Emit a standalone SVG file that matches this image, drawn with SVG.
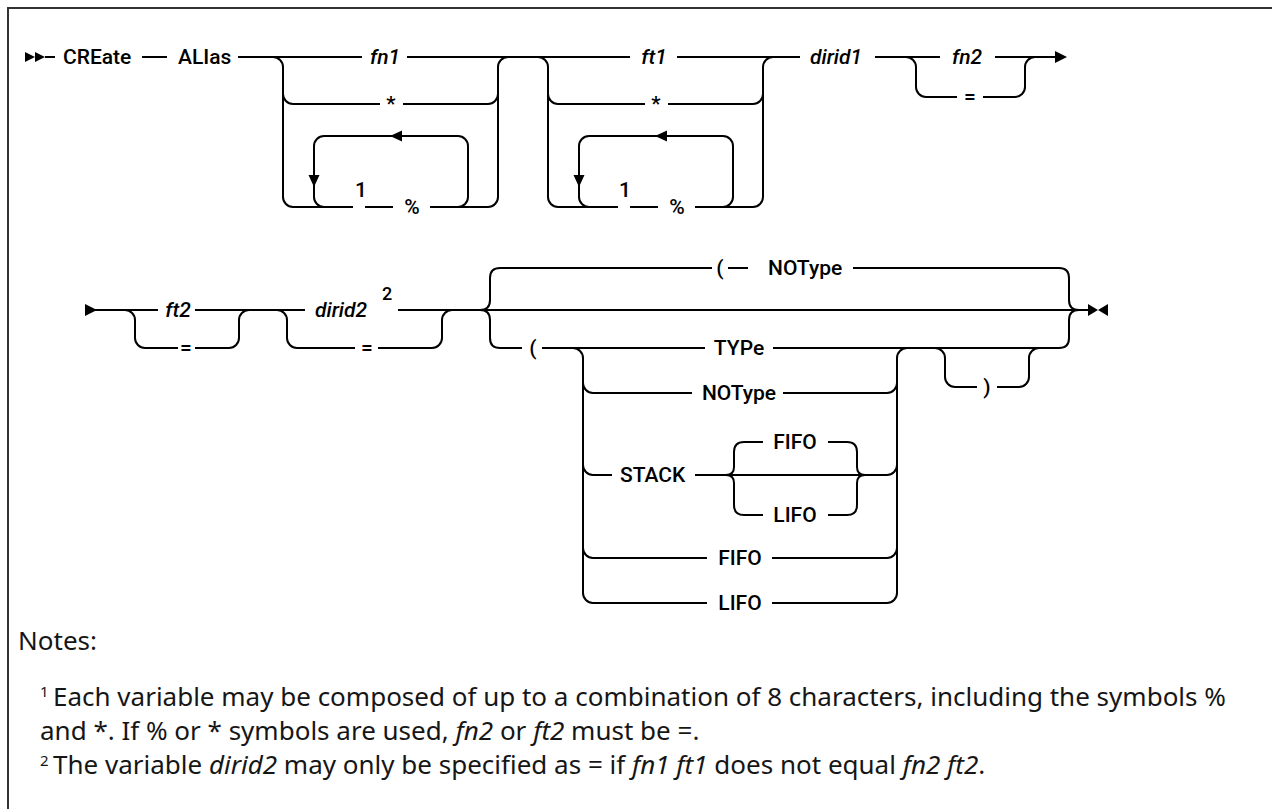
<svg xmlns="http://www.w3.org/2000/svg" width="1272" height="809" viewBox="0 0 1272 809">
<style>
.ln{fill:none;stroke:#000;stroke-width:2}
.ah{fill:#000;stroke:none}
.t{font-family:Roboto,"Liberation Sans",Arial,sans-serif;font-size:21px;font-weight:500;fill:#000}
.i{font-style:italic}
.m{text-anchor:middle}
.sup{font-family:Roboto,"Liberation Sans",Arial,sans-serif;font-size:18px;font-weight:500;fill:#000}
.nt{font-family:"Noto Sans","Liberation Sans",sans-serif;font-size:26px;fill:#161616}
.ns{font-family:"Noto Sans","Liberation Sans",sans-serif;font-size:15px;fill:#161616}
</style>
<rect x="8" y="8" width="1300" height="900" fill="none" stroke="#333" stroke-width="2"/>
<g id="connectors">
<path class="ah" d="M25,52 L35,57 L25,62 Z M35,52 L45,57 L35,62 Z"/>
<path class="ln" d="M45,57 H55 M142,57 H167 M238,57 H362 M407,57 H630 M677,57 H800 M875,57 H940 M995,57 H1056"/>
<path class="ah" d="M1055,51 L1067,57 L1055,63 Z"/>
<path class="ln" d="M273,57 a10,10 0 0 1 10,10 V197 a10,10 0 0 0 10,10 H353 M283,94 a10,10 0 0 0 10,10 H380 M403,104 H488 a10,10 0 0 0 10,-10 M365,207 H393 M430,207 H488 a10,10 0 0 0 10,-10 V67 a10,10 0 0 1 10,-10"/>
<path class="ln" d="M458,207 a10,10 0 0 0 10,-10 V146 a10,10 0 0 0 -10,-10 H324 a10,10 0 0 0 -10,10 V197 a10,10 0 0 0 10,10"/>
<path class="ah" d="M390,136 L402,130.5 L402,141.5 Z M308.5,175 L319.5,175 L314,187 Z"/>
<path class="ln" d="M538,57 a10,10 0 0 1 10,10 V197 a10,10 0 0 0 10,10 H618 M548,94 a10,10 0 0 0 10,10 H645 M668,104 H753 a10,10 0 0 0 10,-10 M630,207 H658 M695,207 H753 a10,10 0 0 0 10,-10 V67 a10,10 0 0 1 10,-10"/>
<path class="ln" d="M723,207 a10,10 0 0 0 10,-10 V146 a10,10 0 0 0 -10,-10 H589 a10,10 0 0 0 -10,10 V197 a10,10 0 0 0 10,10"/>
<path class="ah" d="M655,136 L667,130.5 L667,141.5 Z M573.5,175 L584.5,175 L579,187 Z"/>
<path class="ln" d="M906,57 a10,10 0 0 1 10,10 V87 a10,10 0 0 0 10,10 H957 M983,97 H1015 a10,10 0 0 0 10,-10 V67 a10,10 0 0 1 10,-10"/>
<path class="ah" d="M85,304 L97,310 L85,316 Z"/>
<path class="ln" d="M95,310 H158 M195,310 H305 M398,310 H1088"/>
<path class="ln" d="M125,310 a10,10 0 0 1 10,10 V338 a10,10 0 0 0 10,10 H178 M195,348 H229 a10,10 0 0 0 10,-10 V320 a10,10 0 0 1 10,-10"/>
<path class="ln" d="M277,310 a10,10 0 0 1 10,10 V338 a10,10 0 0 0 10,10 H355 M378,348 H432 a10,10 0 0 0 10,-10 V320 a10,10 0 0 1 10,-10"/>
<path class="ln" d="M480,310 q10,0 10,-10 V278 q0,-10 10,-10 H712 M728,268 H748 M853,268 H1059 q10,0 10,10 V300 q0,10 10,10 M480,310 q10,0 10,10 V338 q0,10 10,10 H522 M542,348 H705 M773,348 H1059 q10,0 10,-10 V320 q0,-10 10,-10"/>
<path class="ln" d="M573,348 a10,10 0 0 1 10,10 V593 a10,10 0 0 0 10,10 H707 M583,383 a10,10 0 0 0 10,10 H692 M583,465 a10,10 0 0 0 10,10 H612 M583,548 a10,10 0 0 0 10,10 H707"/>
<path class="ln" d="M772,603 H887 a10,10 0 0 0 10,-10 V358 a10,10 0 0 1 10,-10 M783,393 H887 a10,10 0 0 0 10,-10 M695,475 H887 a10,10 0 0 0 10,-10 M772,558 H887 a10,10 0 0 0 10,-10"/>
<path class="ln" d="M726,475 q8,0 8,-8 V452 q0,-10 10,-10 H763 M726,475 q8,0 8,8 V505 q0,10 10,10 H763 M828,442 H847 q10,0 10,10 V467 q0,8 8,8 M828,515 H847 q10,0 10,-10 V483 q0,-8 8,-8"/>
<path class="ln" d="M935,348 a10,10 0 0 1 10,10 V377 a10,10 0 0 0 10,10 H977 M997,387 H1019 a10,10 0 0 0 10,-10 V358 a10,10 0 0 1 10,-10"/>
<path class="ah" d="M1088,304 L1098,310 L1088,316 Z M1108,304 L1098,310 L1108,316 Z"/>
</g>
<g id="n-create"><text class="t" x="63" y="64">CREate</text></g>
<g id="n-alias"><text class="t" x="178" y="64">ALIas</text></g>
<g id="n-fn1"><text class="t i m" x="385" y="64">fn1</text></g>
<g id="n-star1"><text class="t m" x="391" y="111">*</text></g>
<g id="n-note1a"><text class="t" x="355" y="197">1</text></g>
<g id="n-pct1"><text class="t m" x="412" y="214">%</text></g>
<g id="n-ft1"><text class="t i m" x="654" y="64">ft1</text></g>
<g id="n-star2"><text class="t m" x="656" y="111">*</text></g>
<g id="n-note1b"><text class="t" x="619" y="197">1</text></g>
<g id="n-pct2"><text class="t m" x="677" y="214">%</text></g>
<g id="n-dirid1"><text class="t i" x="810" y="64">dirid1</text></g>
<g id="n-fn2"><text class="t i m" x="967" y="64">fn2</text></g>
<g id="n-eq1"><text class="t m" x="970" y="104">=</text></g>
<g id="n-ft2"><text class="t i m" x="178" y="317">ft2</text></g>
<g id="n-eq2"><text class="t m" x="186" y="355">=</text></g>
<g id="n-dirid2"><text class="t i" x="315" y="317">dirid2</text><text class="sup" x="382" y="300">2</text></g>
<g id="n-eq3"><text class="t m" x="367" y="355">=</text></g>
<g id="n-paren1"><text class="t m" x="720" y="275">(</text></g>
<g id="n-notype1"><text class="t" x="768" y="275">NOType</text></g>
<g id="n-paren2"><text class="t m" x="533" y="355">(</text></g>
<g id="n-type"><text class="t m" x="739" y="355">TYPe</text></g>
<g id="n-notype2"><text class="t m" x="739" y="400">NOType</text></g>
<g id="n-stack"><text class="t" x="620" y="482">STACK</text></g>
<g id="n-fifo1"><text class="t m" x="795" y="449">FIFO</text></g>
<g id="n-lifo1"><text class="t m" x="795" y="522">LIFO</text></g>
<g id="n-fifo2"><text class="t m" x="740" y="565">FIFO</text></g>
<g id="n-lifo2"><text class="t m" x="740" y="610">LIFO</text></g>
<g id="n-paren3"><text class="t m" x="987" y="394">)</text></g>
<g id="notes">
<text class="nt" x="18" y="650">Notes:</text>
<text class="ns" x="40" y="697">1</text>
<text class="nt" x="53" y="706">Each variable may be composed of up to a combination of 8 characters, including the symbols %</text>
<text class="nt" x="40" y="740">and *. If % or * symbols are used, <tspan font-style="italic">fn2</tspan> or <tspan font-style="italic">ft2</tspan> must be =.</text>
<text class="ns" x="40" y="766">2</text>
<text class="nt" x="53" y="774">The variable <tspan font-style="italic">dirid2</tspan> may only be specified as = if <tspan font-style="italic">fn1 ft1</tspan> does not equal <tspan font-style="italic">fn2 ft2</tspan>.</text>
</g>
</svg>
